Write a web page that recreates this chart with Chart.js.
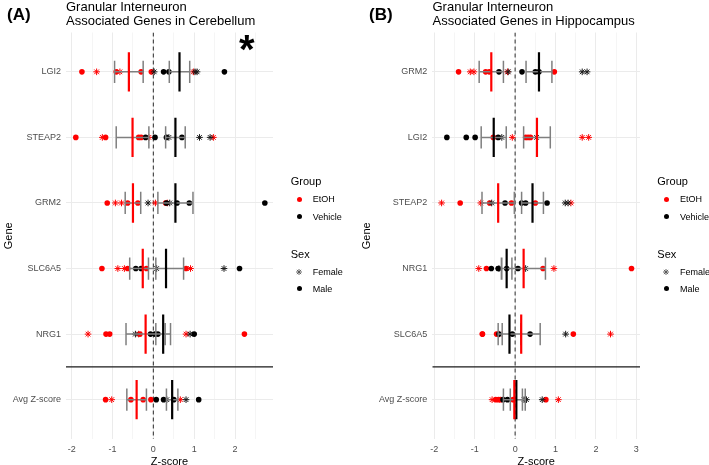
<!DOCTYPE html>
<html>
<head>
<meta charset="utf-8">
<script src="https://cdn.jsdelivr.net/npm/chart.js@4/dist/chart.umd.min.js"></script>
<style>
  body { margin: 0; background: #fff; font-family: "Liberation Sans", Arial, sans-serif; }
  #wrap { position: relative; width: 709px; height: 465px; overflow: hidden; }
  canvas { position: absolute; top: 0; }
  .t { position: absolute; white-space: nowrap; color: #000; }
  .panel { font-size: 17px; font-weight: bold; line-height: 17px; }
  .title { font-size: 13px; line-height: 13.5px; }
  .lgTitle { font-size: 11px; line-height: 12px; }
  .lgText { font-size: 9px; line-height: 10px; }
  .dot { position: absolute; width: 5px; height: 5px; border-radius: 50%; }
</style>
</head>
<body>
<div id="wrap">
  <canvas id="chartA" width="358" height="465" style="left:0px"></canvas>
  <canvas id="chartB" width="351" height="465" style="left:358px"></canvas>
  <div class="t panel" style="left:7px;top:5.6px">(A)</div>
  <div class="t panel" style="left:369px;top:5.6px">(B)</div>
  <div class="t title" style="left:66px;top:0px">Granular Interneuron<br>Associated Genes in Cerebellum</div>
  <div class="t title" style="left:432.5px;top:0px">Granular Interneuron<br>Associated Genes in Hippocampus</div>
  <div class="t" style="left:239px;top:29px;font-size:40px;font-weight:bold;line-height:40px">*</div>
</div>
<script>
// ---- panel A: cerebellum ----
var genesA = ['LGI2', 'STEAP2', 'GRM2', 'SLC6A5', 'NRG1', 'Avg Z-score'];
var etohFemaleA = [[-1.39, -0.82, 0.98], [-1.25, -0.11, 1.47], [-0.93, -0.78, 0.05, 0.34], [-0.87, -0.71, 0.91], [-1.60, -0.36, 0.80], [-1.02, 0.66]];
var etohMaleA = [[-1.75, -0.91, -0.30, -0.05], [-1.90, -1.17, -0.36, -0.30], [-1.13, -0.63, -0.38, 0.30], [-1.26, -0.63, -0.17, 0.80], [-1.16, -1.07, -0.33, 2.23], [-1.17, -0.55, -0.25, -0.06]];
var vehFemaleA = [[0.02, 1.02, 1.07], [0.38, 1.13, 1.39], [-0.13, 0.40], [0.08, 1.73], [-0.44, 0.90], [0.33, 0.80]];
var vehMaleA = [[0.25, 0.38, 1.74], [-0.19, 0.04, 0.32, 0.70], [0.32, 0.58, 0.88, 2.73], [-0.43, -0.30, 2.11], [-0.07, 0.04, 0.11, 1.00], [0.07, 0.25, 0.50, 1.11]];
var etohMeanA = [-0.60, -0.51, -0.50, -0.26, -0.19, -0.41];
var etohSdA = [0.35, 0.40, 0.19, 0.32, 0.48, 0.24];
var vehMeanA = [0.64, 0.54, 0.54, 0.31, 0.24, 0.46];
var vehSdA = [0.25, 0.24, 0.43, 0.43, 0.18, 0.14];

// ---- panel B: hippocampus ----
var genesB = ['GRM2', 'LGI2', 'STEAP2', 'NRG1', 'SLC6A5', 'Avg Z-score'];
var etohFemaleB = [[-1.11, -1.02, -0.19], [-0.07, 1.66, 1.82], [-1.82, -0.85, 1.38], [-0.90, 0.96], [-0.40, 2.36], [-0.57, 1.07]];
var etohMaleB = [[-1.40, -0.73, -0.64, 0.97], [-0.54, 0.26, 0.32, 0.38], [-1.36, -0.63, -0.09, 0.50], [-0.71, 0.69, 2.88], [-0.81, -0.81, -0.46, 1.44], [-0.48, -0.41, -0.36, -0.05, 0.76]];
var vehFemaleB = [[-0.17, 1.66, 1.78], [-0.33, 0.53], [-0.58, 1.24, 1.31], [-0.40, 0.26], [1.25], [0.22, 0.28, 0.67]];
var vehMaleB = [[-0.40, 0.17, 0.50, 0.59], [-1.69, -1.21, -0.99, -0.42], [-0.25, 0.16, 0.26, 0.79], [-0.59, -0.42, -0.21, 0.07], [-0.40, -0.07, 0.37], [-0.30, -0.19]];
var etohMeanB = [-0.59, 0.54, -0.42, 0.21, 0.15, -0.02];
var etohSdB = [0.30, 0.33, 0.40, 0.54, 0.47, 0.27];
var vehMeanB = [0.59, -0.53, 0.43, -0.21, -0.14, 0.03];
var vehSdB = [0.32, 0.31, 0.27, 0.13, 0.28, 0.15];

var FONT = '"Liberation Sans", Arial, sans-serif';
var RED = '#FF0000';

function toPoints(rows) {
  var out = [];
  rows.forEach(function (row, i) {
    row.forEach(function (v) { out.push({ x: v, y: i }); });
  });
  return out;
}

// list of segments separated by gaps
function segments(list) {
  var out = [];
  list.forEach(function (s) {
    out.push({ x: s[0], y: s[1] }, { x: s[2], y: s[3] }, { x: null, y: null });
  });
  return out;
}

function lineSet(data, color, width, order, dash) {
  return {
    data: data, showLine: true, borderColor: color, borderWidth: width,
    pointRadius: 0, spanGaps: false, fill: false, tension: 0, order: order,
    borderDash: dash || []
  };
}

function makeChart(id, genes, ef, em, vf, vm, eMean, eSd, vMean, vSd, xMin, xMax, yW, padRight) {
  var hBars = [], caps = [], eLines = [], vLines = [];
  genes.forEach(function (g, i) {
    [[eMean[i], eSd[i]], [vMean[i], vSd[i]]].forEach(function (ms) {
      var lo = ms[0] - ms[1], hi = ms[0] + ms[1];
      hBars.push([lo, i, hi, i]);
      caps.push([lo, i - 0.17, lo, i + 0.17]);
      caps.push([hi, i - 0.17, hi, i + 0.17]);
    });
    eLines.push([eMean[i], i - 0.3, eMean[i], i + 0.3]);
    vLines.push([vMean[i], i - 0.3, vMean[i], i + 0.3]);
  });

  var datasets = [
    lineSet(segments(eLines), RED, 2.2, 0),
    lineSet(segments(vLines), '#000', 2.2, 0),
    lineSet(segments(caps), '#7F7F7F', 1.5, 1),
    lineSet(segments(hBars), '#7F7F7F', 1.5, 1),
    { data: toPoints(vm), pointStyle: 'circle', pointRadius: 2.8, pointBackgroundColor: '#000', pointBorderWidth: 0, order: 2 },
    { data: toPoints(vf), pointStyle: 'star', pointRadius: 3.3, pointBorderColor: '#1a1a1a', pointBorderWidth: 1, order: 2 },
    { data: toPoints(em), pointStyle: 'circle', pointRadius: 2.8, pointBackgroundColor: RED, pointBorderWidth: 0, order: 3 },
    { data: toPoints(ef), pointStyle: 'star', pointRadius: 3.3, pointBorderColor: RED, pointBorderWidth: 1, order: 3 },
    lineSet([{ x: 0, y: -0.6 }, { x: 0, y: 5.6 }], '#4D4D4D', 1.2, 4, [4, 3]),
    lineSet([{ x: xMin, y: 4.5 }, { x: xMax, y: 4.5 }], '#1a1a1a', 1.1, 4)
  ];

  return new Chart(document.getElementById(id), {
    type: 'scatter',
    data: { datasets: datasets },
    options: {
      responsive: false,
      animation: false,
      events: [],
      layout: { padding: { top: 32.5, right: padRight, left: 0, bottom: 0 } },
      plugins: { legend: { display: false }, tooltip: { enabled: false } },
      scales: {
        x: {
          type: 'linear', min: xMin, max: xMax,
          border: { display: false },
          grid: {
            drawTicks: false,
            color: function (c) { return Number.isInteger(c.tick.value) ? '#EBEBEB' : '#F3F3F3'; },
            lineWidth: function (c) { return Number.isInteger(c.tick.value) ? 1 : 0.8; }
          },
          ticks: {
            stepSize: 0.5, includeBounds: false, autoSkip: false, maxRotation: 0, padding: 5,
            color: '#4D4D4D', font: { size: 9, family: FONT },
            callback: function (v) { return Number.isInteger(v) ? String(v) : ''; }
          },
          title: { display: true, text: 'Z-score', color: '#000', font: { size: 11, family: FONT }, padding: { top: 0, bottom: -4 } },
          afterFit: function (s) { s.height = 26; }
        },
        y: {
          type: 'linear', min: -0.6, max: 5.6, reverse: true,
          border: { display: false },
          grid: { drawTicks: false, color: '#EBEBEB' },
          afterBuildTicks: function (s) { s.ticks = genes.map(function (g, i) { return { value: i }; }); },
          ticks: {
            padding: 5, color: '#4D4D4D', font: { size: 9, family: FONT },
            callback: function (v) { return genes[v]; }
          },
          title: { display: true, text: 'Gene', color: '#000', font: { size: 11, family: FONT }, padding: { top: 2, bottom: 0 } },
          afterFit: function (s) { s.width = yW; }
        }
      }
    }
  });
}

makeChart('chartA', genesA, etohFemaleA, etohMaleA, vehFemaleA, vehMaleA, etohMeanA, etohSdA, vehMeanA, vehSdA, -2.14, 2.93, 66, 85);
makeChart('chartB', genesB, etohFemaleB, etohMaleB, vehFemaleB, vehMaleB, etohMeanB, etohSdB, vehMeanB, vehSdB, -2.05, 3.09, 74.3, 69);

// legends (html)
function star(cx, cy, r, color) {
  var s = '<svg style="position:absolute;left:' + (cx - r - 1) + 'px;top:' + (cy - r - 1) + 'px" width="' + (2 * r + 2) + '" height="' + (2 * r + 2) + '">';
  var c = r + 1, d = r * 0.7071;
  s += '<g stroke="' + color + '" stroke-width="0.9">';
  s += '<line x1="' + (c - r) + '" y1="' + c + '" x2="' + (c + r) + '" y2="' + c + '"/>';
  s += '<line x1="' + c + '" y1="' + (c - r) + '" x2="' + c + '" y2="' + (c + r) + '"/>';
  s += '<line x1="' + (c - d) + '" y1="' + (c - d) + '" x2="' + (c + d) + '" y2="' + (c + d) + '"/>';
  s += '<line x1="' + (c - d) + '" y1="' + (c + d) + '" x2="' + (c + d) + '" y2="' + (c - d) + '"/>';
  return s + '</g></svg>';
}
function dot(cx, cy, color) {
  return '<div class="dot" style="left:' + (cx - 2.5) + 'px;top:' + (cy - 2.5) + 'px;background:' + color + '"></div>';
}
function legend(titleX, dotX, textX) {
  var h = '';
  h += '<div class="t lgTitle" style="left:' + titleX + 'px;top:174.7px">Group</div>';
  h += dot(dotX, 199.3, RED) + '<div class="t lgText" style="left:' + textX + 'px;top:194.4px">EtOH</div>';
  h += dot(dotX, 216.7, '#000') + '<div class="t lgText" style="left:' + textX + 'px;top:211.8px">Vehicle</div>';
  h += '<div class="t lgTitle" style="left:' + titleX + 'px;top:247.5px">Sex</div>';
  h += star(dotX, 271.7, 3, '#555') + '<div class="t lgText" style="left:' + textX + 'px;top:266.8px">Female</div>';
  h += dot(dotX, 288.7, '#000') + '<div class="t lgText" style="left:' + textX + 'px;top:283.8px">Male</div>';
  document.getElementById('wrap').insertAdjacentHTML('beforeend', h);
}
legend(290.7, 299.3, 312.7);
legend(657.3, 666, 680);
</script>
</body>
</html>
